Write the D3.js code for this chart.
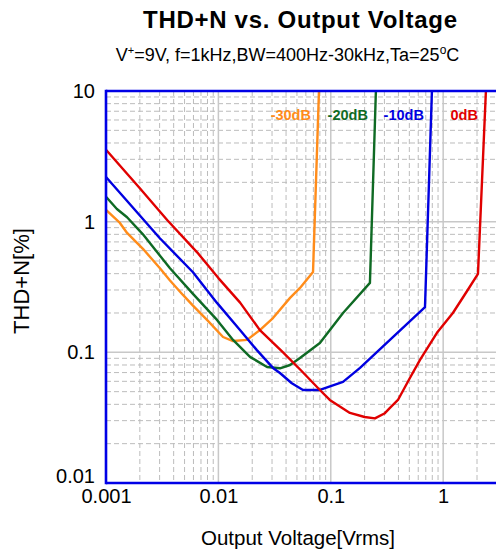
<!DOCTYPE html>
<html>
<head>
<meta charset="utf-8">
<script src="https://cdn.jsdelivr.net/npm/d3@7"></script>
<style>
  body { margin: 0; background: #fff; }
  svg { display: block; font-family: "Liberation Sans", Arial, sans-serif; }
</style>
</head>
<body>
<div id="chart"></div>
<script>
// series (Vrms, THD+N %)
const seriesNames = ["-30dB", "-20dB", "-10dB", "0dB"];
const seriesColors = ["#ff8c1a", "#0f6a24", "#0000e0", "#e00000"];

const vout30 = [0.001, 0.00133, 0.00154, 0.00213, 0.00302, 0.00371, 0.00484, 0.00594, 0.00792, 0.011, 0.0135, 0.018, 0.0234, 0.0306, 0.0434, 0.0532, 0.0695, 0.0785];
const thd30  = [1.23, 0.977, 0.82, 0.62, 0.44, 0.355, 0.275, 0.228, 0.177, 0.131, 0.122, 0.1245, 0.148, 0.183, 0.261, 0.311, 0.412, 10];

const vout20 = [0.001, 0.00125, 0.00154, 0.00213, 0.00371, 0.00594, 0.00972, 0.0135, 0.0191, 0.0271, 0.0353, 0.0434, 0.0532, 0.08, 0.1285, 0.223, 0.252];
const thd20  = [1.55, 1.25, 1.08, 0.80, 0.44, 0.28, 0.177, 0.1245, 0.0923, 0.0773, 0.0755, 0.08, 0.0906, 0.118, 0.2, 0.34, 10];

const vout10 = [0.001, 0.0015, 0.003, 0.00594, 0.00972, 0.01556, 0.022, 0.0306, 0.0353, 0.045, 0.0566, 0.08, 0.1285, 0.182, 0.357, 0.689, 0.794];
const thd10  = [2.2, 1.48, 0.75, 0.41, 0.239, 0.148, 0.104, 0.076, 0.0695, 0.058, 0.0515, 0.0515, 0.0594, 0.076, 0.131, 0.222, 10];

const vout0 = [0.001, 0.002, 0.0035, 0.0065, 0.01, 0.0156, 0.0234, 0.0376, 0.055, 0.08, 0.098, 0.148, 0.2, 0.247, 0.3, 0.336, 0.396, 0.5, 0.622, 0.88, 1.22, 1.6, 2.04, 2.4];
const thd0  = [3.55, 1.8, 1.03, 0.58, 0.37, 0.24, 0.148, 0.100, 0.072, 0.0515, 0.0432, 0.0344, 0.032, 0.0312, 0.034, 0.0376, 0.0432, 0.0625, 0.0875, 0.141, 0.2, 0.287, 0.398, 10];

const xTicks = [0.001, 0.01, 0.1, 1];
const xTickLabels = ["0.001", "0.01", "0.1", "1"];
const yTicks = [0.01, 0.1, 1, 10];
const yTickLabels = ["0.01", "0.1", "1", "10"];

const allVout = [vout30, vout20, vout10, vout0];
const allThd = [thd30, thd20, thd10, thd0];

const width = 496, height = 553;
const margin = {top: 91, left: 106, bottom: 70};
const plotW = 390.8, plotH = 392;

const svg = d3.select("#chart").append("svg")
    .attr("width", width)
    .attr("height", height);

const x = d3.scaleLog().domain([0.001, 3]).range([margin.left, margin.left + plotW]);
const y = d3.scaleLog().domain([0.01, 10]).range([margin.top + plotH, margin.top]);

// grid: dashed minors, solid majors
let grid = svg.append("g");
let minorX = [], minorY = [];
for (let d = 0.001; d < 3; d *= 10) {
    for (let m = 2; m <= 9; m++) {
        if (d * m < 3) minorX.push(d * m);
        if (d * m < 10 && d >= 0.01) minorY.push(d * m);
    }
}
grid.selectAll(".mx").data(minorX).enter().append("line")
    .attr("x1", d => x(d)).attr("x2", d => x(d))
    .attr("y1", y(10)).attr("y2", y(0.01))
    .attr("stroke", "#bcbcbc").attr("stroke-width", 1).attr("stroke-dasharray", "5,3");
grid.selectAll(".my").data(minorY).enter().append("line")
    .attr("y1", d => y(d)).attr("y2", d => y(d))
    .attr("x1", x(0.001)).attr("x2", x(3))
    .attr("stroke", "#bcbcbc").attr("stroke-width", 1).attr("stroke-dasharray", "5,3");
grid.selectAll(".Mx").data([0.01, 0.1, 1]).enter().append("line")
    .attr("x1", d => x(d)).attr("x2", d => x(d))
    .attr("y1", y(10)).attr("y2", y(0.01))
    .attr("stroke", "#c8c8c8").attr("stroke-width", 1.5);
grid.selectAll(".My").data([0.1, 1]).enter().append("line")
    .attr("y1", d => y(d)).attr("y2", d => y(d))
    .attr("x1", x(0.001)).attr("x2", x(3))
    .attr("stroke", "#c8c8c8").attr("stroke-width", 1.5);

// curves
let line = d3.line().x(d => x(d[0])).y(d => y(d[1]));
seriesNames.forEach(function(name, i) {
    let pts = allVout[i].map((v, j) => [v, allThd[i][j]]);
    svg.append("path")
        .datum(pts)
        .attr("fill", "none")
        .attr("stroke", seriesColors[i])
        .attr("stroke-width", 2.4)
        .attr("stroke-linejoin", "round")
        .attr("d", line);

    // label sits just left of where the curve leaves the top
    let vTop = allVout[i][allVout[i].length - 1];
    svg.append("text")
        .attr("x", x(vTop) - 8)
        .attr("y", 120)
        .attr("text-anchor", "end")
        .attr("font-size", "14.5px")
        .attr("font-weight", "bold")
        .attr("fill", seriesColors[i])
        .text(name);
});

// frame (blue)
let frame = svg.append("g").attr("stroke", "#0000e6").attr("stroke-width", 2.6);
frame.append("line").attr("x1", x(0.001)).attr("x2", width).attr("y1", y(10)).attr("y2", y(10));
frame.append("line").attr("x1", x(0.001)).attr("x2", width).attr("y1", y(0.01)).attr("y2", y(0.01));
frame.append("line").attr("x1", x(0.001)).attr("x2", x(0.001)).attr("y1", y(10) - 1.3).attr("y2", y(0.01) + 1.3);

// axes
let xAxis = svg.append("g")
    .attr("transform", "translate(0," + y(0.01) + ")")
    .call(d3.axisBottom(x).tickValues(xTicks).tickFormat((d, i) => xTickLabels[i]).tickSize(0).tickPadding(6));
let yAxis = svg.append("g")
    .attr("transform", "translate(" + x(0.001) + ",0)")
    .call(d3.axisLeft(y).tickValues(yTicks).tickFormat((d, i) => yTickLabels[i]).tickSize(0).tickPadding(11));
[xAxis, yAxis].forEach(function(a) {
    a.select(".domain").remove();
    a.selectAll("text").attr("font-size", "20px").attr("fill", "#000")
        .attr("font-family", "Liberation Sans, Arial, sans-serif");
});
yAxis.selectAll("text").filter(d => d === 0.01).attr("dy", "-0.05em");

// titles
svg.append("text")
    .attr("x", 300).attr("y", 28)
    .attr("text-anchor", "middle")
    .attr("font-size", "24px").attr("font-weight", "bold")
    .attr("textLength", 314).attr("lengthAdjust", "spacing")
    .text("THD+N vs. Output Voltage");

let sub = svg.append("text")
    .attr("x", 287.5).attr("y", 61)
    .attr("text-anchor", "middle")
    .attr("font-size", "18px");
sub.append("tspan").text("V");
sub.append("tspan").attr("font-size", "11px").attr("dy", -7).text("+");
sub.append("tspan").attr("dy", 7).text("=9V, f=1kHz,BW=400Hz-30kHz,Ta=25");
sub.append("tspan").attr("font-size", "12px").attr("dy", -7).text("o");
sub.append("tspan").attr("dy", 7).text("C");

svg.append("text")
    .attr("x", 298).attr("y", 545)
    .attr("text-anchor", "middle")
    .attr("font-size", "20.5px")
    .text("Output Voltage[Vrms]");

svg.append("text")
    .attr("transform", "translate(29,281) rotate(-90)")
    .attr("text-anchor", "middle")
    .attr("font-size", "22px")
    .text("THD+N[%]");
</script>
</body>
</html>
